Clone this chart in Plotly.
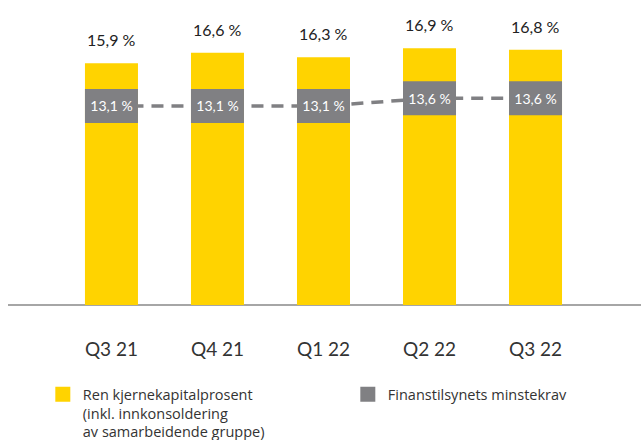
import plotly.graph_objects as go

categories = ["Q3 21", "Q4 21", "Q1 22", "Q2 22", "Q3 22"]
cet1_ratio = [15.9, 16.6, 16.3, 16.9, 16.8]
requirement = [13.1, 13.1, 13.1, 13.6, 13.6]

series_names = [
    "Ren kjernekapitalprosent<br>(inkl. innkonsoldering<br>av samarbeidende gruppe)",
    "Finanstilsynets minstekrav",
]

YELLOW = "#FFD300"
GRAY = "#808083"
FONT = "Lato, 'Open Sans', sans-serif"
LEGEND_FONT = "'Open Sans', Lato, sans-serif"
BOX_H = 2.24  # height of requirement box in value units


def fmt(v):
    return f"{v:.1f}".replace(".", ",") + " %"


fig = go.Figure()

# dashed requirement line (behind bars)
fig.add_trace(go.Scatter(
    x=categories, y=requirement, mode="lines",
    line=dict(color=GRAY, width=3.5, dash="12px,8px"),
    showlegend=False, hoverinfo="skip", zorder=-1,
))

# yellow bars
fig.add_trace(go.Bar(
    x=categories, y=cet1_ratio, marker=dict(color=YELLOW, line=dict(width=0)),
    width=0.5, showlegend=False, hoverinfo="skip",
))

# gray requirement boxes
fig.add_trace(go.Bar(
    x=categories, y=[BOX_H] * len(requirement),
    base=[r - BOX_H / 2 for r in requirement],
    marker=dict(color=GRAY, line=dict(width=0)), width=0.5,
    text=[fmt(r) for r in requirement], textposition="inside",
    insidetextanchor="middle", constraintext="none",
    textfont=dict(color="white", size=14, family=FONT),
    showlegend=False, hoverinfo="skip",
))

# legend entries
for name, col in zip(series_names, [YELLOW, GRAY]):
    fig.add_trace(go.Scatter(
        x=[None], y=[None], mode="markers", name=name,
        marker=dict(symbol="square", size=15, color=col),
    ))

for c, v in zip(categories, cet1_ratio):
    fig.add_annotation(
        x=c, y=v, text=fmt(v), showarrow=False, yanchor="bottom", yshift=12,
        font=dict(size=16, color="#222222", family=FONT),
    )

fig.update_layout(
    width=641, height=440,
    margin=dict(l=8, r=0, t=0, b=135, autoexpand=False),
    paper_bgcolor="white", plot_bgcolor="white",
    barmode="overlay",
    font=dict(family=FONT, color="#333333"),
    xaxis=dict(
        type="category", range=[-0.976, 4.995],
        showgrid=False, zeroline=False,
        showline=True, linecolor="#A6A6A6", linewidth=1.5,
        ticks="", ticklabelstandoff=26,
        tickfont=dict(size=19, color="#333333", family=FONT),
    ),
    yaxis=dict(
        range=[0, 20.07], showticklabels=False, showgrid=False, ticks="",
        zeroline=True, zerolinecolor="#A6A6A6", zerolinewidth=1.5,
        showline=False,
    ),
    showlegend=True,
    legend=dict(
        orientation="h", x=0.055, xanchor="left", y=-0.24, yanchor="top",
        font=dict(size=14.5, color="#333333", family=LEGEND_FONT),
        entrywidth=260, entrywidthmode="pixels", valign="top",
        bgcolor="rgba(0,0,0,0)",
    ),
)

fig.write_html("out.html")
